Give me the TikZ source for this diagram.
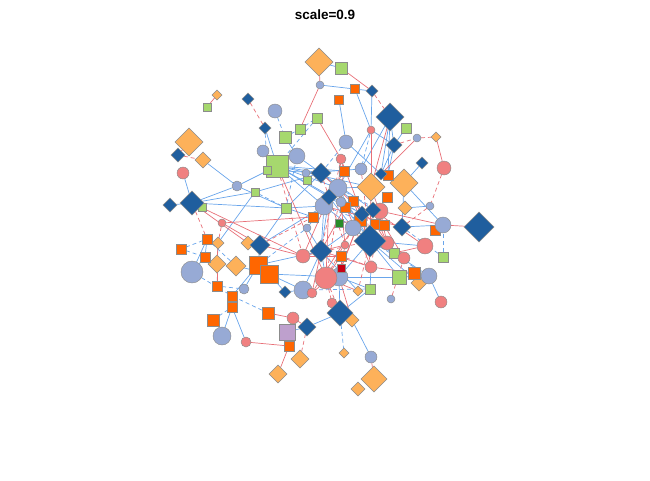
\documentclass[tikz,border=0pt]{standalone}
\usepackage{fontspec}
\setmainfont{Liberation Sans}
\usetikzlibrary{shapes.geometric,backgrounds}
\definecolor{nBlue}{RGB}{151,170,213}
\definecolor{nPink}{RGB}{240,128,128}
\definecolor{nNavy}{RGB}{31,94,158}
\definecolor{nPeach}{RGB}{253,177,90}
\definecolor{nOrange}{RGB}{255,102,0}
\definecolor{nGreen}{RGB}{166,216,110}
\definecolor{nDkGreen}{RGB}{40,140,40}
\definecolor{nRed}{RGB}{200,0,20}
\definecolor{nLilac}{RGB}{190,160,205}
\definecolor{eBlue}{RGB}{105,165,235}
\definecolor{eRed}{RGB}{232,112,120}

\begin{document}
\begin{tikzpicture}[x=1pt, y=-1pt,
  nd/.style={draw=black!45, line width=0.45pt, inner sep=0pt, outer sep=0pt},
  bcirc/.style={nd, circle, fill=nBlue},
  pcirc/.style={nd, circle, fill=nPink},
  ddia/.style={nd, diamond, aspect=1, fill=nNavy},
  odia/.style={nd, diamond, aspect=1, fill=nPeach},
  osq/.style={nd, rectangle, fill=nOrange},
  gsq/.style={nd, rectangle, fill=nGreen},
  eb/.style={eBlue, line width=0.7pt},
  ebd/.style={eb, dash pattern=on 4pt off 3pt},
  er/.style={eRed, line width=0.7pt},
  erd/.style={er, dash pattern=on 4pt off 3pt}]
\useasboundingbox (0,0) rectangle (650,480);

\node[font=\bfseries\fontsize{13.5}{16}\selectfont] (title) at (325,15) {scale=0.9};

% vertices: name/x/y/half size
\foreach \n/\x/\y/\r in {od1/319/62/14, od2/217/95/5, od3/189/142/14, od4/203/160/8,
    od5/436/137/5, od6/371/187/14, od7/404/183/14, od8/405/208/7, od9/218/243/6,
    od10/248/243/7, od11/217/264/9, od12/236/266/10, od13/358/291/5, od14/419/283/8,
    od15/352/320/7, od16/300/359/9, od17/344/353/5, od18/278/374/9, od19/374/379/13,
    od20/358/389/7}
  \node[odia, minimum size=2*\r*1pt] (\n) at (\x,\y) {};
\foreach \n/\x/\y/\r in {gs1/341/68/6, gs2/207/107/4, gs3/317/118/5, gs4/300/129/5,
    gs5/406/128/5, gs6/285/137/6, gs7/277/166/11, gs8/267/170/4, gs9/307/180/4,
    gs10/255/192/4, gs11/202/207/4, gs12/286/208/5, gs13/394/253/5, gs14/443/257/5,
    gs15/399/277/7, gs16/370/289/5}
  \node[gsq, minimum size=2*\r*1pt] (\n) at (\x,\y) {};
\foreach \n/\x/\y/\r in {os1/355/89/4.5, os2/339/100/4.5, os3/344/171/5, os4/388/175/5,
    os5/387/197/5, os6/313/217/5, os7/353/201/5, os8/345/207/5, os9/360/220/6,
    os10/375/224/5, os11/384/225/5, os12/435/230/5, os13/341/256/5, os14/207/239/5,
    os15/181/249/5, os16/205/257/5, os17/258/265/9, os18/269/274/9, os19/217/286/5,
    os20/232/296/5, os21/232/307/5, os22/268/313/6, os23/213/320/6, os24/289/346/5,
    os25/414/273/6}
  \node[osq, minimum size=2*\r*1pt] (\n) at (\x,\y) {};
\foreach \n/\x/\y/\r in {bc1/320/85/4, bc2/275/111/7, bc3/346/142/7, bc4/263/151/6,
    bc5/297/156/8, bc6/306/173/4, bc7/361/169/6, bc8/237/186/5, bc9/338/188/9,
    bc10/324/206/9, bc11/341/202/5, bc12/307/228/4, bc13/353/228/8, bc14/417/138/4,
    bc15/430/206/4, bc16/443/225/8, bc17/192/272/11, bc18/244/289/5, bc19/303/290/9,
    bc20/339/277/9, bc21/429/276/8, bc22/391/299/4, bc23/222/336/9, bc24/371/357/6}
  \node[bcirc, minimum size=2*\r*1pt] (\n) at (\x,\y) {};
\foreach \n/\x/\y/\r in {pc1/371/130/4, pc2/341/159/5, pc3/183/173/6, pc4/222/223/4,
    pc5/380/211/8, pc6/444/168/7, pc7/387/243/7, pc8/425/246/8, pc9/345/245/4,
    pc10/303/256/7, pc11/371/267/6, pc12/404/258/6, pc13/326/278/11, pc14/312/293/5,
    pc15/332/303/5, pc16/293/318/6, pc17/246/342/5, pc18/441/302/6}
  \node[pcirc, minimum size=2*\r*1pt] (\n) at (\x,\y) {};
\foreach \n/\x/\y/\r in {dd1/372/91/6, dd2/248/99/6, dd3/390/117/14, dd4/265/128/6,
    dd5/394/145/8, dd6/178/155/7, dd7/422/163/6, dd8/321/173/10, dd9/381/174/6,
    dd10/329/197/8, dd11/170/205/7, dd12/192/203/12, dd13/362/214/8, dd14/373/210/8,
    dd15/402/227/9, dd16/479/227/15, dd17/370/241/16, dd18/260/245/10, dd19/321/251/11,
    dd20/285/292/6, dd21/340/313/13, dd22/307/327/9}
  \node[ddia, minimum size=2*\r*1pt] (\n) at (\x,\y) {};
\node[nd, rectangle, fill=nDkGreen, minimum size=8pt] (dg1) at (339,223) {};
\node[nd, rectangle, fill=nRed, minimum size=8pt] (rs1) at (341,268) {};
\node[nd, rectangle, fill=nLilac, minimum size=16pt] (pu1) at (287,332) {};

% edges
\begin{scope}[on background layer]
\foreach \a/\b in {gs1/od1, bc1/dd1, os1/pc1, dd1/pc1, os2/bc3, pc1/dd5, dd5/gs5,
    dd3/dd5, dd5/os4, dd7/od7, bc4/gs7, bc8/dd12, bc8/gs12, bc8/gs7, gs10/od9,
    gs12/dd8, gs7/dd8, gs7/bc9, pc3/dd12, dd12/gs11, dd11/dd12, od4/bc8, dd4/gs7,
    gs6/bc5, bc5/dd8, dd8/bc9, dd8/bc6, bc9/od6, bc10/dd19, os14/os16, os16/bc17,
    bc18/os17, os20/os17, os21/os20, os21/bc23, os21/pc17, dd20/bc19, od15/bc24,
    bc21/pc18, bc21/os25, dd17/gs13, dd17/pc8, dd15/od7, bc15/od8, gs12/bc10,
    dd18/os17, dd18/bc10, dd19/pc13, bc20/dd21, dd21/dd22, dd21/gs16, bc13/dd17,
    gs13/pc12, gs15/dd17, pc10/dd19, bc12/dd19, os3/gs7, bc7/dd3, bc11/dd17,
    bc16/od7, bc20/gs16, dd9/dd3, os18/bc19, os17/dd19, od14/dd17, gs7/dd10,
    gs7/od6, gs12/os6, dd10/bc13, dd8/dd14, bc3/dd9, os18/dd20, os18/bc20,
    dd22/pu1, pu1/os24, bc17/os14, dd12/gs10, gs8/dd8, bc6/bc7, dd13/dd17,
    dd15/bc16, gs13/bc21, gs15/bc21, pc11/gs16, bc20/gs15, dd18/gs12, od12/os18,
    dd19/dd10, gs7/dd13, gs7/bc10, gs10/dd8, dd12/gs12, bc10/dd17, bc9/dd17,
    dd8/os7, bc13/dd19, bc20/dd17, bc19/dd19, dd19/od13, bc11/os9, dd10/os8,
    bc12/bc10, dd3/os4, dd5/dd9, pc1/bc9}
  \draw[eb] (\a) -- (\b);
\foreach \a/\b in {gs4/gs3, gs6/gs4, bc2/gs6, gs12/bc5, os15/os14, os15/os16,
    os19/bc18, os23/os21, os22/os20, dd21/od17, gs14/bc16, gs14/dd15, pc1/bc7,
    bc3/dd8, bc9/pc5, gs9/bc6, bc10/os9, gs3/gs7, od9/os19, bc12/os17, os14/od12,
    bc17/os20, dd4/gs8, bc19/gs16, dd17/bc21, bc11/dd13, gs10/gs12}
  \draw[ebd] (\a) -- (\b);
\foreach \a/\b in {od1/bc1, gs1/dd1, gs4/bc1, gs3/pc2, od2/gs2, pc1/od6, bc14/dd9,
    od5/pc6, pc4/dd18, dd18/pc10, dd12/od10, od9/od11, od11/os19, pc17/os24,
    os22/pc16, os24/od18, pc16/dd22, dd16/bc16, bc24/od19, pc2/bc9, pc13/os13,
    rs1/pc13, dd10/pc10, pc5/bc16, dd17/pc5, bc20/rs1, dd13/pc11, os7/dd17,
    dg1/os9, os10/pc7, pc9/dd19, dd14/pc7, os13/rs1, rs1/pc14, bc9/os8, os3/dd10,
    pc2/os3, pc7/pc12, bc20/od15, pc15/dd21, dd19/pc14, dd8/os10, od6/os11,
    pc11/os25, gs13/pc8, bc10/dd15, dd12/pc10, pc4/os6, gs7/pc13, dd3/od6,
    pc2/dd13, bc9/pc11, dd10/pc13, pc13/od13, dd19/pc11, bc11/pc9, os9/rs1,
    od6/dd17, pc5/pc7, dd14/pc8, os8/dd19, bc13/pc14, pc10/os13, dd13/rs1,
    os11/pc12}
  \draw[er] (\a) -- (\b);
\foreach \a/\b in {dd2/dd4, dd1/dd3, dd5/bc14, bc14/od5, pc6/bc15, dd6/od4,
    dd12/os14, od16/dd22, bc22/pc12, dd17/od13, pc13/dd21, dd18/os6, bc15/dd15,
    pc4/od9, od3/dd6, pc13/pc15, os13/pc11, pc10/dd17, bc13/pc13, pc9/rs1,
    gs7/pc10, dd8/pc9, os3/pc13, bc7/dd17, pc5/pc11, pc2/dd19}
  \draw[erd] (\a) -- (\b);
\end{scope}
\end{tikzpicture}
\end{document}
